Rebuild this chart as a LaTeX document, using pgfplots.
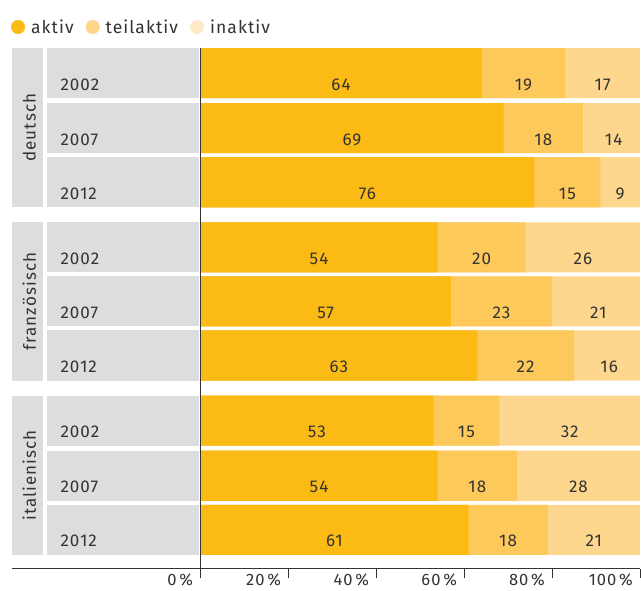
\documentclass[border=0pt]{standalone}
\usepackage{fontspec}
\setmainfont{Fira Sans}[LetterSpace=6]
\usepackage{pgfplots}
\pgfplotsset{compat=1.18}
\usepackage{pgfplotstable}

\definecolor{cA}{HTML}{FBBA14}
\definecolor{cT}{HTML}{FDC95B}
\definecolor{cI}{HTML}{FED78E}
\definecolor{lgT}{HTML}{FDD68C}
\definecolor{lgI}{HTML}{FEEAC9}
\definecolor{panel}{HTML}{DCDDDF}
\definecolor{ink}{HTML}{333333}

% shares in percent: aktiv, teilaktiv, inaktiv; y = row position
\pgfplotstableread{
y   yr   a  t  i
517 2002 64 19 17
462 2007 69 18 14
408 2012 76 15 9
343 2002 54 20 26
289 2007 57 23 21
235 2012 63 22 16
170 2002 53 15 32
115 2007 54 18 28
61  2012 61 18 21
}\shares

\pgfplotsset{/pgf/number format/assume math mode=true}
\newcommand\lbl{\fontsize{17}{19}\selectfont}

\begin{document}
\begin{tikzpicture}
\begin{axis}[
  scale only axis, width=627pt, height=558pt,
  xmin=-42.82, xmax=100, ymin=22, ymax=580,
  axis x line*=bottom, hide y axis,
  x axis line style={ink, line width=0.8pt},
  xtick={0,20,40,60,80,100},
  xticklabel={\pgfmathprintnumber{\tick}\,\%},
  xticklabel style={anchor=base east, inner sep=0pt, xshift=-7pt, yshift=-8pt, text=ink, font=\fontsize{16.5}{18}\selectfont},
  tick align=outside, major tick length=9pt,
  tick style={ink, line width=0.8pt},
  ytick=\empty,
  xbar, bar width=50, bar shift=0,
  legend style={at={(axis cs:-43.1,563)}, anchor=west, draw=none, fill=none,
    legend columns=-1, font=\fontsize{17.5}{19}\selectfont, text=ink, inner sep=0pt,
    /tikz/every even column/.append style={column sep=10pt},
    /tikz/every odd column/.append style={column sep=4pt}},
  legend cell align=left,
]
% label panels
\fill[panel] (axis cs:-42.82,542) rectangle (axis cs:-35.76,383);
\fill[panel] (axis cs:-42.82,368) rectangle (axis cs:-35.76,210);
\fill[panel] (axis cs:-42.82,195) rectangle (axis cs:-35.76,36);
\pgfplotsinvokeforeach{517,462,408,343,289,235,170,115,61}{
  \fill[panel] (axis cs:-34.85,#1+25) rectangle (axis cs:-0.25,#1-25);
}

% bars, drawn back to front from the cumulative shares
\addplot[draw=none, fill=cI, forget plot] table[x expr=\thisrow{a}+\thisrow{t}+\thisrow{i}, y=y]{\shares};
\addplot[draw=none, fill=cT, forget plot] table[x expr=\thisrow{a}+\thisrow{t}, y=y]{\shares};
\addplot[draw=none, fill=cA, forget plot] table[x=a, y=y]{\shares};

% value labels centred in each segment
\addplot[draw=none, xbar=false, mark=none, forget plot, nodes near coords, point meta=explicit,
  nodes near coords style={anchor=base, yshift=-17pt, text=ink, font=\lbl}]
  table[x expr=\thisrow{a}/2, y=y, meta=a]{\shares};
\addplot[draw=none, xbar=false, mark=none, forget plot, nodes near coords, point meta=explicit,
  nodes near coords style={anchor=base, yshift=-17pt, text=ink, font=\lbl}]
  table[x expr=\thisrow{a}+\thisrow{t}/2, y=y, meta=t]{\shares};
\addplot[draw=none, xbar=false, mark=none, forget plot, nodes near coords, point meta=explicit,
  nodes near coords style={anchor=base, yshift=-17pt, text=ink, font=\lbl}]
  table[x expr=\thisrow{a}+\thisrow{t}+\thisrow{i}/2, y=y, meta=i]{\shares};

% year labels
\addplot[draw=none, xbar=false, mark=none, forget plot, nodes near coords, point meta=explicit symbolic,
  nodes near coords style={anchor=base west, yshift=-17pt, text=ink, font=\lbl}]
  table[x expr=-32.6, y=y, meta=yr]{\shares};

% zero line
\draw[ink, line width=0.8pt] (axis cs:0,542) -- (axis cs:0,22);

% group labels
\node[rotate=90, text=ink, font=\lbl] at (axis cs:-38.9,462.5) {deutsch};
\node[rotate=90, text=ink, font=\lbl] at (axis cs:-38.9,289) {französisch};
\node[rotate=90, text=ink, font=\lbl] at (axis cs:-38.9,115.5) {italienisch};

% legend
\addlegendimage{legend image code/.code={\fill[cA] (6.5pt,0pt) circle (6.8pt);}}
\addlegendentry{aktiv}
\addlegendimage{legend image code/.code={\fill[lgT] (6.5pt,0pt) circle (6.8pt);}}
\addlegendentry{teilaktiv}
\addlegendimage{legend image code/.code={\fill[lgI] (6.5pt,0pt) circle (6.8pt);}}
\addlegendentry{inaktiv}

\coordinate (bl) at (axis cs:-45.56,0);
\coordinate (tr) at (axis cs:100.23,590);
\end{axis}
\pgfresetboundingbox
\path[use as bounding box] (bl) rectangle (tr);
\end{tikzpicture}
\end{document}
